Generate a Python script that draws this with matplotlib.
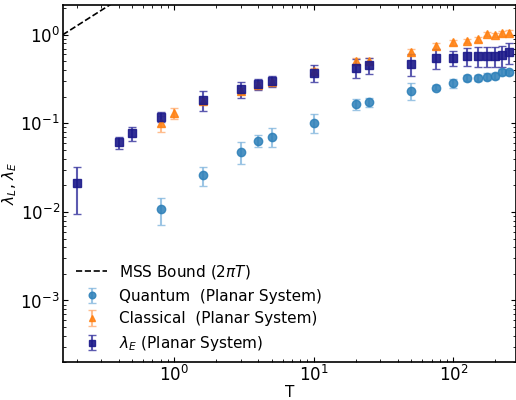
import numpy as np
import matplotlib
matplotlib.use("Agg")
import matplotlib.pyplot as plt

# quantum lyapunov exponent (planar system)
T_q = [0.8, 1.6, 3, 4, 5, 10, 20, 25, 50, 75, 100, 125, 150, 175, 200, 225, 250]
lam_q = [0.0108, 0.026, 0.048, 0.064, 0.071, 0.102, 0.165, 0.173, 0.233, 0.254,
         0.284, 0.324, 0.324, 0.337, 0.344, 0.378, 0.38]
err_q = [0.0036, 0.0063, 0.0135, 0.010, 0.017, 0.025, 0.022, 0.02, 0.05, 0.015,
         0.03, 0.025, 0.025, 0.03, 0.03, 0.03, 0.025]

# classical lyapunov exponent
T_c = [0.8, 1.0, 1.6, 3, 4, 5, 10, 20, 25, 50, 75, 100, 125, 150, 175, 200, 225, 250]
lam_c = [0.100, 0.130, 0.18, 0.233, 0.27, 0.29, 0.39, 0.50, 0.51, 0.64, 0.75,
         0.826, 0.854, 0.89, 1.02, 1.0, 1.04, 1.06]
err_c = [0.02, 0.018, 0.015, 0.02, 0.02, 0.02, 0.03, 0.04, 0.04, 0.05, 0.05,
         0.05, 0.05, 0.05, 0.06, 0.06, 0.06, 0.06]

# lambda_E
T_e = [0.2, 0.4, 0.5, 0.8, 1.6, 3, 4, 5, 10, 20, 25, 50, 75, 100, 125, 150, 175, 200, 225, 250]
lam_e = [0.021, 0.061, 0.0775, 0.119, 0.184, 0.245, 0.279, 0.30, 0.374, 0.427,
         0.454, 0.473, 0.553, 0.553, 0.573, 0.58, 0.58, 0.58, 0.589, 0.637]
err_e = [0.0115, 0.009, 0.014, 0.016, 0.045, 0.05, 0.04, 0.045, 0.08, 0.1,
         0.09, 0.13, 0.14, 0.11, 0.13, 0.15, 0.15, 0.15, 0.16, 0.17]

plt.rcParams['font.size'] = 11

fig = plt.figure(figsize=(5.16, 4.0), dpi=100)
ax = fig.add_axes([0.1215, 0.094, 0.878, 0.8935])

xlim = (1 / (2 * np.pi), 280)
Tb = np.logspace(np.log10(xlim[0]), np.log10(xlim[1]), 200)
ax.plot(Tb, 2 * np.pi * Tb, 'k--', lw=1.2, label=r'MSS Bound ($2\pi T$)')

ax.errorbar(T_q, lam_q, yerr=err_q, fmt='o', color='#2c7fb8', ms=6, alpha=0.85,
            ecolor='#8bbbe0', elinewidth=1.5, capsize=3,
            label='Quantum  (Planar System)')
ax.errorbar(T_c, lam_c, yerr=err_c, fmt='^', color='#ff7f0e', ms=6, alpha=0.85,
            ecolor='#ffb27a', elinewidth=1.5, capsize=3,
            label='Classical  (Planar System)')
ax.errorbar(T_e, lam_e, yerr=err_e, fmt='s', color='#1c1a8a', ms=6, alpha=0.9,
            ecolor='#4a48a8', elinewidth=1.5, capsize=3,
            label=r'$\lambda_E$ (Planar System)')

ax.set_xscale('log')
ax.set_yscale('log')
ax.set_xlim(*xlim)
ax.set_ylim(2.0e-4, 2.17)
ax.set_xlabel('T', labelpad=0)
ax.set_ylabel(r'$\lambda_L$, $\lambda_E$', labelpad=1)
ax.tick_params(which='both', direction='in', top=True, right=True, labelsize=12, pad=2)
for s in ax.spines.values():
    s.set_linewidth(1.2)

ax.legend(loc='lower left', frameon=False, fontsize=11, markerscale=0.8,
          bbox_to_anchor=(0.0, -0.012))

fig.savefig('out.png', dpi=100)
